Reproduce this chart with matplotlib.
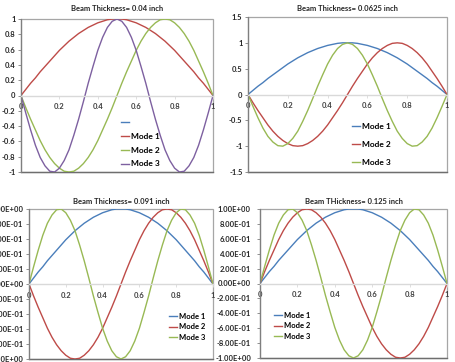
import matplotlib
matplotlib.use("Agg")
import matplotlib.pyplot as plt
from matplotlib.patches import Rectangle
from matplotlib.lines import Line2D

plt.rcParams['font.family'] = ['Lato', 'DejaVu Sans']

# Data (x positions along the beam, normalized)
x = [0.000, 0.025, 0.050, 0.075, 0.100, 0.125, 0.150, 0.175, 0.200, 0.225,
     0.250, 0.275, 0.300, 0.325, 0.350, 0.375, 0.400, 0.425, 0.450, 0.475,
     0.500, 0.525, 0.550, 0.575, 0.600, 0.625, 0.650, 0.675, 0.700, 0.725,
     0.750, 0.775, 0.800, 0.825, 0.850, 0.875, 0.900, 0.925, 0.950, 0.975, 1.000]

mode1 = [0.00, 0.08, 0.16, 0.23, 0.31, 0.38, 0.45, 0.52, 0.59, 0.65,
         0.71, 0.76, 0.81, 0.85, 0.89, 0.92, 0.95, 0.97, 0.99, 1.00,
         1.00, 1.00, 0.99, 0.97, 0.95, 0.92, 0.89, 0.85, 0.81, 0.76,
         0.71, 0.65, 0.59, 0.52, 0.45, 0.38, 0.31, 0.23, 0.16, 0.08, 0.00]

mode2_up = [0.00, 0.16, 0.31, 0.45, 0.59, 0.71, 0.81, 0.89, 0.95, 0.99,
            1.00, 0.99, 0.95, 0.89, 0.81, 0.71, 0.59, 0.45, 0.31, 0.16,
            0.00, -0.16, -0.31, -0.45, -0.59, -0.71, -0.81, -0.89, -0.95, -0.99,
            -1.00, -0.99, -0.95, -0.89, -0.81, -0.71, -0.59, -0.45, -0.31, -0.16, 0.00]

mode2_down = [0.00, -0.16, -0.31, -0.45, -0.59, -0.71, -0.81, -0.89, -0.95, -0.99,
              -1.00, -0.99, -0.95, -0.89, -0.81, -0.71, -0.59, -0.45, -0.31, -0.16,
              0.00, 0.16, 0.31, 0.45, 0.59, 0.71, 0.81, 0.89, 0.95, 0.99,
              1.00, 0.99, 0.95, 0.89, 0.81, 0.71, 0.59, 0.45, 0.31, 0.16, 0.00]

mode3_up = [0.00, 0.23, 0.45, 0.65, 0.81, 0.92, 0.99, 1.00, 0.95, 0.85,
            0.71, 0.52, 0.31, 0.08, -0.16, -0.38, -0.59, -0.76, -0.89, -0.97,
            -1.00, -0.97, -0.89, -0.76, -0.59, -0.38, -0.16, 0.08, 0.31, 0.52,
            0.71, 0.85, 0.95, 1.00, 0.99, 0.92, 0.81, 0.65, 0.45, 0.23, 0.00]

mode3_down = [0.00, -0.23, -0.45, -0.65, -0.81, -0.92, -0.99, -1.00, -0.95, -0.85,
              -0.71, -0.52, -0.31, -0.08, 0.16, 0.38, 0.59, 0.76, 0.89, 0.97,
              1.00, 0.97, 0.89, 0.76, 0.59, 0.38, 0.16, -0.08, -0.31, -0.52,
              -0.71, -0.85, -0.95, -1.00, -0.99, -0.92, -0.81, -0.65, -0.45, -0.23, 0.00]

titles = ["Beam Thickness= 0.04 inch", "Beam Thickness= 0.0625 inch",
          "Beam Thickness= 0.091 inch", "Beam THickness= 0.125 inch"]
labels = ["Mode 1", "Mode 2", "Mode 3"]
x_ticks = [0, 0.2, 0.4, 0.6, 0.8, 1]
x_tick_labels = ["0", "0.2", "0.4", "0.6", "0.8", "1"]
y_ticks_a = [1, 0.8, 0.6, 0.4, 0.2, 0, -0.2, -0.4, -0.6, -0.8, -1]
y_tick_labels_a = ["1", "0.8", "0.6", "0.4", "0.2", "0", "-0.2", "-0.4", "-0.6", "-0.8", "-1"]
y_ticks_b = [1.5, 1, 0.5, 0, -0.5, -1, -1.5]
y_tick_labels_b = ["1.5", "1", "0.5", "0", "-0.5", "-1", "-1.5"]
y_tick_labels_e = ["1.00E+00", "8.00E-01", "6.00E-01", "4.00E-01", "2.00E-01", "0.00E+00",
                   "-2.00E-01", "-4.00E-01", "-6.00E-01", "-8.00E-01", "-1.00E+00"]

BLUE = "#4A7EBB"
RED = "#BE4B48"
GREEN = "#98B954"
PURPLE = "#7D60A0"

W, H = 456, 362
fig = plt.figure(figsize=(W / 100, H / 100), dpi=100)
fig.patch.set_facecolor("white")


def make_ax(left, right, top, bottom):
    return fig.add_axes([left / W, 1 - bottom / H, (right - left) / W, (bottom - top) / H])


def style(ax, ylim, yticks, ylabels, title, title_pad, ypad):
    ax.set_xlim(0, 1)
    ax.set_ylim(*ylim)
    for s in ["top", "right"]:
        ax.spines[s].set_visible(False)
    ax.spines["left"].set_color("#7F7F7F")
    ax.spines["left"].set_linewidth(0.9)
    ax.spines["bottom"].set_position(("data", 0))
    ax.spines["bottom"].set_color("#D9D9D9")
    ax.spines["bottom"].set_linewidth(1.0)
    ax.add_patch(Rectangle((0, 0), 1, 1, transform=ax.transAxes, fill=False,
                           edgecolor="#A6A6A6", linewidth=0.9, clip_on=False, zorder=0.5))
    ax.add_line(Line2D([0, 1], [0, 0], transform=ax.transAxes, color="#6E6E6E",
                       linewidth=1.0, clip_on=False, zorder=0.6))
    ax.set_xticks(x_ticks)
    ax.set_xticklabels(x_tick_labels)
    ax.set_yticks(yticks)
    ax.set_yticklabels(ylabels)
    ax.tick_params(axis="x", length=2, width=0.6, color="#D9D9D9", pad=3.5,
                   labelsize=5.5, labelcolor="#404040")
    ax.tick_params(axis="y", length=2.5, width=0.6, color="#7F7F7F", pad=ypad,
                   labelsize=5.5, labelcolor="#262626")
    for lab in ax.get_xticklabels() + ax.get_yticklabels():
        lab.set_fontweight("bold")
    ax.set_title(title, fontsize=5.5, fontweight="bold", color="#262626", pad=title_pad)


def legend(ax, px, py, spacing, size):
    ax.legend(loc="upper left", bbox_to_anchor=(px / W, 1 - py / H),
              bbox_transform=fig.transFigure, frameon=False,
              handlelength=1.0, handletextpad=0.25, labelspacing=spacing,
              borderpad=0, borderaxespad=0, prop={"weight": "bold", "size": size})


lw = 1.0

# Panel 1
ax1 = make_ax(21, 213, 19, 172)
style(ax1, (-1, 1), y_ticks_a, y_tick_labels_a, titles[0], 5.5, 1.5)
ax1.plot([], [], color=BLUE, lw=lw, label=" ")
ax1.plot(x, mode1, color=RED, lw=lw, label=labels[0])
ax1.plot(x, mode2_down, color=GREEN, lw=lw, label=labels[1])
ax1.plot(x, mode3_down, color=PURPLE, lw=lw, label=labels[2])
legend(ax1, 121, 119, 0.82, 6)

# Panel 2
ax2 = make_ax(248, 447, 17, 172)
style(ax2, (-1.5, 1.5), y_ticks_b, y_tick_labels_b, titles[1], 4.5, 1.5)
ax2.plot(x, mode1, color=BLUE, lw=lw, label=labels[0])
ax2.plot(x, mode2_down, color=RED, lw=lw, label=labels[1])
ax2.plot(x, mode3_down, color=GREEN, lw=lw, label=labels[2])
legend(ax2, 352, 123, 1.3, 6)

# Panel 3
ax3 = make_ax(29, 213, 209, 359)
style(ax3, (-1, 1), y_ticks_a, y_tick_labels_e, titles[2], 3.5, 1.5)
ax3.plot(x, mode1, color=BLUE, lw=lw, label=labels[0])
ax3.plot(x, mode2_down, color=RED, lw=lw, label=labels[1])
ax3.plot(x, mode3_up, color=GREEN, lw=lw, label=labels[2])
legend(ax3, 169, 313, 0.45, 5.5)

# Panel 4
ax4 = make_ax(260, 447, 209, 358)
style(ax4, (-1, 1), y_ticks_a, y_tick_labels_e, titles[3], 3.5, 4.0)
ax4.plot(x, mode1, color=BLUE, lw=lw, label=labels[0])
ax4.plot(x, mode2_up, color=RED, lw=lw, label=labels[1])
ax4.plot(x, mode3_up, color=GREEN, lw=lw, label=labels[2])
legend(ax4, 274, 312, 0.45, 5.5)

fig.savefig("out.png", dpi=100)
